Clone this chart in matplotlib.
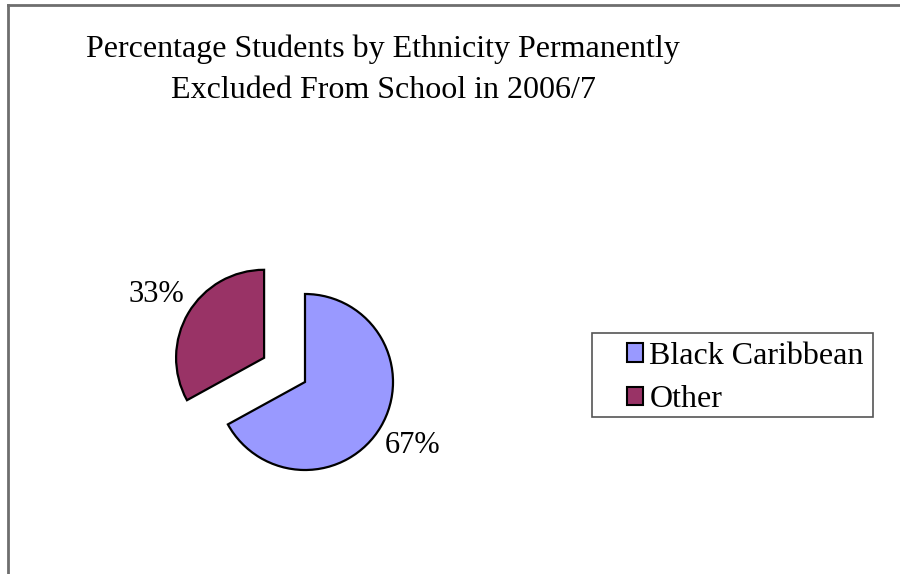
import matplotlib
matplotlib.use("Agg")
import matplotlib.pyplot as plt
from matplotlib.lines import Line2D
from matplotlib.patches import Patch, Rectangle

categories = ["Black Caribbean", "Other"]
values = [67, 33]
colors = ["#9999FF", "#993366"]
title_lines = ["Percentage Students by Ethnicity Permanently",
               "Excluded From School in 2006/7"]

plt.rcParams['font.family'] = ['Liberation Serif', 'DejaVu Serif']

W, H = 900, 574
fig = plt.figure(figsize=(W / 100, H / 100), dpi=100)

# frame (only left and top edges visible in the reference)
fig.add_artist(Line2D([8 / W, 8 / W], [0, 1 - 5 / H], color="#6e6e6e", lw=2))
fig.add_artist(Line2D([8 / W, 1], [1 - 5 / H, 1 - 5 / H], color="#6e6e6e", lw=2))

cx, cy, R, L = 305, 382, 88, 180
ax = fig.add_axes([(cx - L) / W, (H - cy - L) / H, 2 * L / W, 2 * L / H])
lim = L / R
ax.axis("off")

wedges, texts, autotexts = ax.pie(
    values, colors=colors, startangle=90, counterclock=False,
    explode=[0, 0.54], autopct="%1.0f%%", pctdistance=1.42,
    wedgeprops=dict(edgecolor="black", linewidth=1.6),
    textprops=dict(fontsize=22, color="black"))
ax.set_aspect("equal")
ax.set_xlim(-lim, lim)
ax.set_ylim(-lim, lim)

for y_px, line in zip([49, 90], title_lines):
    fig.text(383 / W, 1 - y_px / H, line, ha="center", va="center",
             fontsize=23)

# legend box
fig.add_artist(Rectangle((592 / W, 1 - 417 / H), 281 / W, 84 / H,
                         transform=fig.transFigure, facecolor="white",
                         edgecolor="#555555", linewidth=1.2))
handles = [Patch(facecolor=c, edgecolor="black", linewidth=1.5) for c in colors]
leg = fig.legend(handles, categories, loc="center left",
                 bbox_to_anchor=(627 / W, 1 - 378 / H),
                 fontsize=23, frameon=False,
                 handlelength=0.5, handleheight=0.5,
                 handletextpad=0.2, borderpad=0.0, labelspacing=0.45,
                 borderaxespad=0)

fig.savefig("out.png", dpi=100)
